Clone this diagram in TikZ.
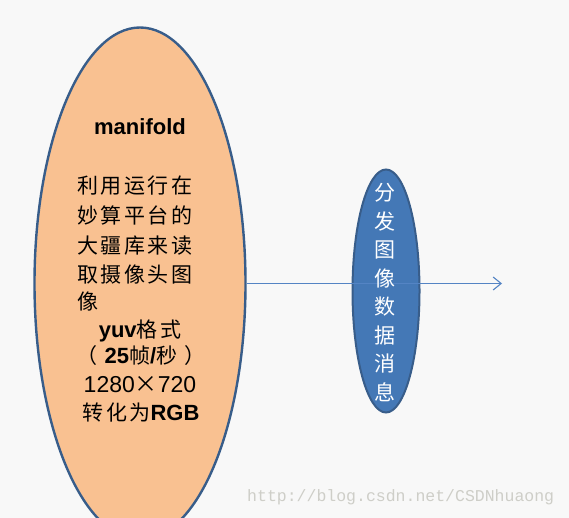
\documentclass[tikz,border=0pt]{standalone}
\usepackage{fontspec}
\setmainfont{Liberation Sans}
\newfontfamily\cjk{Noto Sans CJK SC}
\newfontfamily\cjksp[LetterSpace=12]{Noto Sans CJK SC}
\newfontfamily\wmfont{Liberation Mono}
\usetikzlibrary{shapes.geometric,arrows.meta}
\definecolor{bgcol}{RGB}{248,248,248}
\definecolor{peach}{RGB}{249,193,145}
\definecolor{edgeblue}{RGB}{56,93,138}
\definecolor{fillblue}{RGB}{68,120,182}
\definecolor{linkblue}{RGB}{84,132,196}
\definecolor{wmgray}{RGB}{206,206,200}
\newcommand\lsz{\fontsize{21}{25}\selectfont}
\tikzset{
  bigell/.style={ellipse, draw=edgeblue, line width=2.4pt, fill=peach, inner sep=0pt,
    minimum width=211pt, minimum height=512pt},
  smallell/.style={ellipse, draw=edgeblue, line width=2pt, fill=fillblue, inner sep=0pt,
    minimum width=67pt, minimum height=243pt},
  link/.style={draw=linkblue, line width=1.1pt, -{Straight Barb[length=8pt,width=13pt]}},
  txt/.style={inner sep=0pt, text height=18.5pt, text depth=2.5pt, text=black},
  cjkline/.style={txt, anchor=west, font=\cjksp\lsz},
  mixline/.style={txt, anchor=center, font=\lsz},
}
\begin{document}
\begin{tikzpicture}[x=1pt,y=-1pt]
\useasboundingbox (0,0) rectangle (569,518);
\clip (0,0) rectangle (569,518);
\fill[bgcol] (0,0) rectangle (569,518);

\node[bigell] (big) at (140,283.5) {};
\node[smallell] (small) at (386,291) {};
\coordinate (end) at (502,283.5);
\draw[link] (big.east) -- (end);

\node[txt, font=\bfseries\fontsize{22}{26}\selectfont] (title) at (140,127) {manifold};
\node[cjkline] (l1) at (77,186) {利用运行在};
\node[cjkline] (l2) at (77,216) {妙算平台的};
\node[cjkline] (l3) at (77,245) {大疆库来读};
\node[cjkline] (l4) at (77,274) {取摄像头图};
\node[cjkline] (l5) at (77,301) {像};
\node[mixline] (l6) at (140,329) {{\fontsize{22}{26}\selectfont\bfseries yuv}{\cjksp 格式}};
\node[mixline] (l7) at (141,355) {{\cjksp （}\hspace{7pt}{\fontsize{22}{26}\selectfont\bfseries 25}{\cjksp 帧}{\fontsize{22}{26}\selectfont\bfseries /}{\cjksp 秒}\hspace{7pt}{\cjksp ）}};
\node[mixline] (l8) at (140,384) {\fontsize{23}{26}\selectfont 1280{\cjk ×}720};
\node[mixline] (l9) at (141,412) {{\cjksp 转化为}{\fontsize{22}{26}\selectfont\bfseries RGB}};

\node[inner sep=0pt, align=center, text=white, font=\cjk\fontsize{21}{28.5}\selectfont] (msg) at (385,292.5)
  {分\\发\\图\\像\\数\\据\\消\\息};

\node[inner sep=0pt, anchor=west, text=wmgray, font=\wmfont\fontsize{16.5}{20}\selectfont] (wm) at (247,497)
  {http://blog.csdn.net/CSDNhuaong};
\end{tikzpicture}
\end{document}
